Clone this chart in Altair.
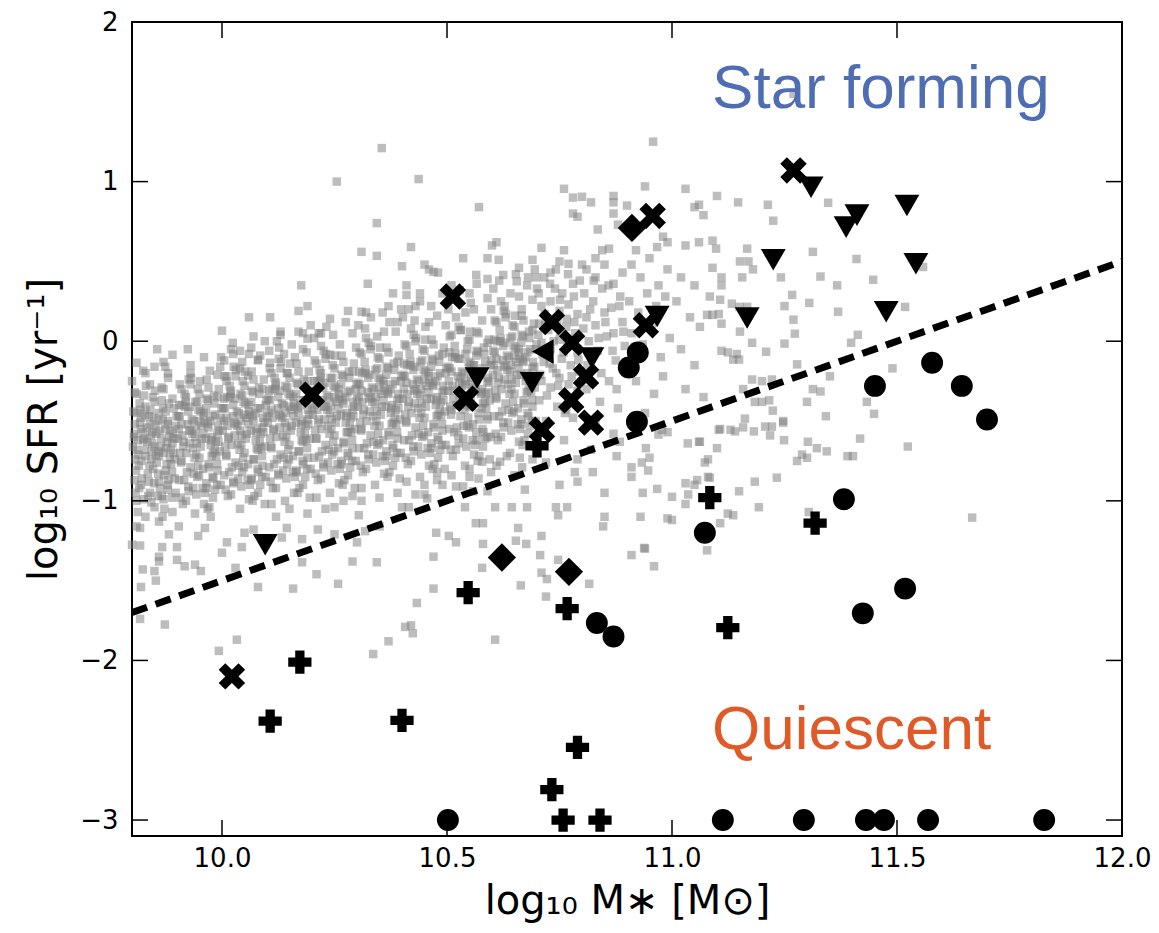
import altair as alt
import pandas as pd

# ---------------- gray background sample (log M*, log SFR) ----------------
gray_A = [(9.81,-0.33),(9.83,-0.41),(9.85,-0.38),(9.87,-0.30),(9.89,-0.36),(9.82,-0.48),(9.84,-0.52),(9.86,-0.45),(9.88,-0.50),(9.805,-0.58),
          (9.825,-0.62),(9.845,-0.57),(9.865,-0.61),(9.885,-0.56),(9.81,-0.68),(9.83,-0.72),(9.85,-0.66),(9.87,-0.70),(9.89,-0.64),(9.815,-0.78),
          (9.835,-0.83),(9.855,-0.76),(9.875,-0.81),(9.895,-0.74),(9.82,-0.90),(9.84,-0.95),(9.86,-0.88),(9.88,-0.93),(9.81,-1.00),(9.85,-1.04),
          (9.87,-0.99),(9.89,-1.07),(9.83,-1.10),(9.86,-1.13),(9.80,-0.25),(9.84,-0.27),(9.88,-0.23),(9.82,-0.55),(9.86,-0.72),(9.895,-0.86),
          (9.805,-0.87),(9.845,-0.64),(9.875,-0.44),(9.83,-0.20),(9.87,-0.13),
          (9.856,-0.05),(9.89,-0.085),(9.81,-0.135),(9.825,-0.185),(9.85,-0.16),(9.874,-0.16),(9.88,-0.2),(9.81,-1.16),(9.818,-1.17),(9.80,-1.275),
          (9.818,-1.28),(9.824,-1.43),(9.85,-1.44),(9.853,-1.50),(9.82,-1.54),(9.818,-1.74),(9.873,-1.775),(9.867,-1.29),(9.86,-1.35),(9.86,-1.38),(9.882,-1.21),
          (9.803,-0.44),(9.818,-0.51),(9.838,-0.47),(9.852,-0.53),(9.868,-0.49),(9.883,-0.60),(9.897,-0.53),(9.812,-0.62),(9.828,-0.68),(9.843,-0.74),
          (9.859,-0.69),(9.877,-0.77),(9.892,-0.70),(9.807,-0.74),(9.822,-0.86),(9.847,-0.80),(9.862,-0.92),(9.881,-0.87),(9.836,-0.97),(9.872,-1.05),
          (9.817,-0.39),(9.851,-0.31),(9.866,-0.37),(9.893,-0.42),(9.808,-0.95),(9.842,-0.59),(9.858,-0.83),(9.878,-0.63),(9.826,-0.34),(9.889,-0.98),
          (9.804,-0.60),(9.814,-0.71),(9.824,-0.57),(9.834,-0.63),(9.844,-0.69),(9.854,-0.58),(9.864,-0.66),(9.874,-0.55),(9.884,-0.73),(9.894,-0.61),
          (9.809,-0.81),(9.829,-0.46),(9.849,-0.89),(9.869,-0.42),(9.889,-0.82),(9.819,-0.43),(9.839,-0.78),(9.859,-0.50),(9.879,-0.90),(9.899,-0.47),
          (9.806,-0.52),(9.846,-0.35),(9.866,-0.97),(9.886,-0.68),(9.826,-0.99),
          (9.802,-0.66),(9.811,-0.45),(9.821,-0.75),(9.833,-0.54),(9.841,-0.43),(9.853,-0.71),(9.861,-0.56),(9.871,-0.84),(9.882,-0.39),(9.891,-0.58),
          (9.806,-0.32),(9.816,-0.92),(9.827,-0.61),(9.837,-0.88),(9.848,-0.48),(9.857,-0.97),(9.866,-0.29),(9.876,-0.67),(9.887,-0.77),(9.897,-0.95),
          (9.813,-1.07),(9.843,-1.01),(9.868,-1.10),(9.831,-0.28),(9.879,-0.52)]
gray_B = [(9.91,-0.30),(9.93,-0.27),(9.95,-0.33),(9.97,-0.29),(9.99,-0.35),(9.905,-0.40),(9.925,-0.44),(9.945,-0.38),(9.965,-0.42),(9.985,-0.46),
          (9.91,-0.52),(9.93,-0.56),(9.95,-0.50),(9.97,-0.54),(9.99,-0.58),(9.915,-0.63),(9.935,-0.67),(9.955,-0.61),(9.975,-0.65),(9.995,-0.69),
          (9.91,-0.75),(9.93,-0.79),(9.95,-0.73),(9.97,-0.77),(9.99,-0.81),(9.905,-0.87),(9.925,-0.91),(9.945,-0.85),(9.965,-0.89),(9.985,-0.93),
          (9.92,-1.00),(9.96,-1.02),(9.98,-0.98),(9.94,-1.08),(9.975,-1.10),(9.94,-0.60),(9.96,-0.47),(9.98,-0.70),(9.92,-0.35),(9.99,-0.21),(9.93,-0.15),
          (9.924,-0.05),(9.96,-0.10),(9.973,-0.185),(9.996,-0.16),(9.998,-0.1),(9.93,-0.2),(9.90,-1.29),(9.90,-1.37),(9.917,-1.41),(9.947,-1.22),
          (9.94,-1.40),(9.953,-1.44),(9.962,-1.17),(9.904,-1.16),(9.993,-1.94),
          (9.903,-0.47),(9.918,-0.41),(9.937,-0.50),(9.952,-0.44),(9.968,-0.52),(9.983,-0.39),(9.997,-0.48),(9.912,-0.59),(9.928,-0.64),(9.943,-0.71),
          (9.959,-0.58),(9.977,-0.72),(9.992,-0.63),(9.907,-0.70),(9.922,-0.82),(9.947,-0.78),(9.962,-0.95),(9.981,-0.86),(9.936,-0.92),(9.972,-1.04),
          (9.917,-0.33),(9.951,-0.25),(9.966,-0.36),(9.993,-0.30),(9.908,-0.98),(9.942,-0.55),(9.958,-0.80),(9.978,-0.60),(9.926,-0.24),(9.989,-0.90),
          (9.904,-0.55),(9.914,-0.66),(9.924,-0.52),(9.934,-0.58),(9.944,-0.64),(9.954,-0.53),(9.964,-0.61),(9.974,-0.50),(9.984,-0.68),(9.994,-0.56),
          (9.909,-0.76),(9.929,-0.41),(9.949,-0.84),(9.969,-0.37),(9.989,-0.77),(9.919,-0.38),(9.939,-0.73),(9.959,-0.45),(9.979,-0.85),(9.999,-0.42),
          (9.906,-0.47),(9.946,-0.30),(9.966,-0.92),(9.986,-0.63),(9.926,-0.94),
          (9.902,-0.61),(9.911,-0.40),(9.921,-0.70),(9.933,-0.49),(9.941,-0.38),(9.953,-0.66),(9.961,-0.51),(9.971,-0.79),(9.982,-0.34),(9.991,-0.53),
          (9.906,-0.27),(9.916,-0.87),(9.927,-0.56),(9.937,-0.83),(9.948,-0.43),(9.957,-0.92),(9.966,-0.24),(9.976,-0.62),(9.987,-0.72),(9.997,-0.90),
          (9.913,-1.02),(9.943,-0.96),(9.968,-1.05),(9.931,-0.23),(9.979,-0.47)]
gray_C = [(10.01,-0.25),(10.03,-0.22),(10.05,-0.28),(10.07,-0.24),(10.09,-0.30),(10.005,-0.36),(10.025,-0.40),(10.045,-0.34),(10.065,-0.38),(10.085,-0.42),
          (10.01,-0.48),(10.03,-0.52),(10.05,-0.46),(10.07,-0.50),(10.09,-0.54),(10.015,-0.60),(10.035,-0.64),(10.055,-0.58),(10.075,-0.62),(10.095,-0.66),
          (10.01,-0.72),(10.03,-0.76),(10.05,-0.70),(10.07,-0.74),(10.09,-0.78),(10.005,-0.84),(10.025,-0.88),(10.045,-0.82),(10.065,-0.86),(10.085,-0.90),
          (10.02,-0.96),(10.06,-0.99),(10.08,-0.95),(10.04,-1.05),(10.095,-1.02),(10.04,-0.56),(10.06,-0.44),(10.08,-0.68),(10.02,-0.31),(10.10,-0.47),
          (10.0,0.066),(10.024,-0.01),(10.02,-0.05),(10.04,-0.06),(10.06,-0.08),(10.08,-0.12),(10.01,-0.22),(10.04,-0.17),(10.058,-0.215),(10.07,0.03),
          (10.06,0.15),(10.08,-0.115),(10.03,-1.42),(10.011,-1.26),(10.0,-1.325),(10.044,-1.29),(10.05,-1.20),(10.07,-1.18),(10.033,-1.87),(10.08,-1.54),
          (10.003,-0.42),(10.018,-0.35),(10.037,-0.45),(10.052,-0.39),(10.068,-0.47),(10.083,-0.33),(10.097,-0.40),(10.012,-0.53),(10.028,-0.59),(10.043,-0.65),
          (10.059,-0.52),(10.077,-0.67),(10.092,-0.57),(10.007,-0.66),(10.022,-0.79),(10.047,-0.73),(10.062,-0.90),(10.081,-0.82),(10.036,-0.86),(10.072,-0.97),
          (10.017,-0.28),(10.051,-0.19),(10.066,-0.31),(10.093,-0.24),(10.008,-0.93),(10.042,-0.50),(10.058,-0.77),(10.078,-0.55),(10.026,-0.16),(10.089,-0.85),
          (10.004,-0.50),(10.014,-0.61),(10.024,-0.47),(10.034,-0.53),(10.044,-0.59),(10.054,-0.48),(10.064,-0.56),(10.074,-0.45),(10.084,-0.63),(10.094,-0.51),
          (10.009,-0.71),(10.029,-0.36),(10.049,-0.79),(10.069,-0.32),(10.089,-0.72),(10.019,-0.33),(10.039,-0.68),(10.059,-0.40),(10.079,-0.80),(10.099,-0.37),
          (10.006,-0.42),(10.046,-0.25),(10.066,-0.87),(10.086,-0.58),(10.026,-0.89),
          (10.002,-0.56),(10.011,-0.35),(10.021,-0.65),(10.033,-0.44),(10.041,-0.33),(10.053,-0.61),(10.061,-0.46),(10.071,-0.74),(10.082,-0.29),(10.091,-0.48),
          (10.006,-0.22),(10.016,-0.82),(10.027,-0.51),(10.037,-0.78),(10.048,-0.38),(10.057,-0.87),(10.066,-0.19),(10.076,-0.57),(10.087,-0.67),(10.097,-0.85),
          (10.013,-0.97),(10.043,-0.91),(10.068,-1.00),(10.031,-0.18),(10.079,-0.42)]
gray_D = [(10.11,-0.20),(10.13,-0.17),(10.15,-0.23),(10.17,-0.19),(10.19,-0.25),(10.105,-0.31),(10.125,-0.35),(10.145,-0.29),(10.165,-0.33),(10.185,-0.37),
          (10.11,-0.43),(10.13,-0.47),(10.15,-0.41),(10.17,-0.45),(10.19,-0.49),(10.115,-0.55),(10.135,-0.59),(10.155,-0.53),(10.175,-0.57),(10.195,-0.61),
          (10.11,-0.67),(10.13,-0.71),(10.15,-0.65),(10.17,-0.69),(10.19,-0.73),(10.105,-0.79),(10.125,-0.83),(10.145,-0.77),(10.165,-0.81),(10.185,-0.85),
          (10.12,-0.92),(10.16,-0.95),(10.18,-0.90),(10.14,-1.00),(10.195,-0.98),(10.14,-0.51),(10.16,-0.39),(10.18,-0.63),(10.12,-0.26),(10.20,-0.42),
          (10.107,0.15),(10.13,0.06),(10.13,0.04),(10.127,-0.04),(10.107,-0.135),(10.144,-0.2),(10.162,-0.1),(10.18,-0.05),(10.19,0.016),(10.18,0.05),
          (10.176,0.35),(10.19,0.22),(10.17,0.19),(10.133,-1.23),(10.178,-1.24),(10.144,-1.17),(10.158,-1.55),(10.178,-1.385),(10.12,-1.10),
          (10.103,-0.36),(10.118,-0.30),(10.137,-0.40),(10.152,-0.34),(10.168,-0.42),(10.183,-0.28),(10.197,-0.35),(10.112,-0.48),(10.128,-0.54),(10.143,-0.60),
          (10.159,-0.47),(10.177,-0.62),(10.192,-0.52),(10.107,-0.61),(10.122,-0.74),(10.147,-0.68),(10.162,-0.85),(10.181,-0.77),(10.136,-0.81),(10.172,-0.92),
          (10.117,-0.23),(10.151,-0.14),(10.166,-0.26),(10.193,-0.19),(10.108,-0.88),(10.142,-0.45),(10.158,-0.72),(10.178,-0.50),(10.126,-0.11),(10.189,-0.80),
          (10.104,-0.45),(10.114,-0.56),(10.124,-0.42),(10.134,-0.48),(10.144,-0.54),(10.154,-0.43),(10.164,-0.51),(10.174,-0.40),(10.184,-0.58),(10.194,-0.46),
          (10.109,-0.66),(10.129,-0.31),(10.149,-0.74),(10.169,-0.27),(10.189,-0.67),(10.119,-0.28),(10.139,-0.63),(10.159,-0.35),(10.179,-0.75),(10.199,-0.32),
          (10.106,-0.37),(10.146,-0.20),(10.166,-0.82),(10.186,-0.53),(10.126,-0.84),
          (10.102,-0.51),(10.111,-0.30),(10.121,-0.60),(10.133,-0.39),(10.141,-0.28),(10.153,-0.56),(10.161,-0.41),(10.171,-0.69),(10.182,-0.24),(10.191,-0.43),
          (10.106,-0.17),(10.116,-0.77),(10.127,-0.46),(10.137,-0.73),(10.148,-0.33),(10.157,-0.82),(10.166,-0.14),(10.176,-0.52),(10.187,-0.62),(10.197,-0.80),
          (10.113,-0.92),(10.143,-0.86),(10.168,-0.95),(10.131,-0.13),(10.179,-0.37)]
gray_E = [(10.21,-0.14),(10.23,-0.11),(10.25,-0.17),(10.27,-0.13),(10.29,-0.19),(10.205,-0.25),(10.225,-0.29),(10.245,-0.23),(10.265,-0.27),(10.285,-0.31),
          (10.21,-0.37),(10.23,-0.41),(10.25,-0.35),(10.27,-0.39),(10.29,-0.43),(10.215,-0.49),(10.235,-0.53),(10.255,-0.47),(10.275,-0.51),(10.295,-0.55),
          (10.21,-0.61),(10.23,-0.65),(10.25,-0.59),(10.27,-0.63),(10.29,-0.67),(10.205,-0.73),(10.225,-0.77),(10.245,-0.71),(10.265,-0.75),(10.285,-0.79),
          (10.22,-0.86),(10.26,-0.89),(10.28,-0.84),(10.24,-0.95),(10.295,-0.92),(10.24,-0.45),(10.26,-0.33),(10.28,-0.57),(10.22,-0.20),(10.30,-0.36),
          (10.215,0.05),(10.24,0.14),(10.22,0.05),(10.24,-0.085),(10.255,1.0),(10.28,0.19),(10.21,-1.46),(10.258,-1.52),(10.213,-1.18),(10.25,-1.21),
          (10.29,-1.38),(10.23,-1.05),(10.27,-1.00),
          (10.203,-0.31),(10.218,-0.25),(10.237,-0.35),(10.252,-0.29),(10.268,-0.37),(10.283,-0.23),(10.297,-0.30),(10.212,-0.43),(10.228,-0.49),(10.243,-0.55),
          (10.259,-0.42),(10.277,-0.57),(10.292,-0.47),(10.207,-0.56),(10.222,-0.69),(10.247,-0.63),(10.262,-0.80),(10.281,-0.72),(10.236,-0.76),(10.272,-0.87),
          (10.217,-0.18),(10.251,-0.09),(10.266,-0.21),(10.293,-0.14),(10.208,-0.83),(10.242,-0.40),(10.258,-0.67),(10.278,-0.45),(10.226,-0.06),(10.289,-0.75),
          (10.204,-0.40),(10.214,-0.51),(10.224,-0.37),(10.234,-0.43),(10.244,-0.49),(10.254,-0.38),(10.264,-0.46),(10.274,-0.35),(10.284,-0.53),(10.294,-0.41),
          (10.209,-0.61),(10.229,-0.26),(10.249,-0.69),(10.269,-0.22),(10.289,-0.62),(10.219,-0.23),(10.239,-0.58),(10.259,-0.30),(10.279,-0.70),(10.299,-0.27),
          (10.206,-0.32),(10.246,-0.15),(10.266,-0.77),(10.286,-0.48),(10.226,-0.79),
          (10.202,-0.46),(10.211,-0.25),(10.221,-0.55),(10.233,-0.34),(10.241,-0.23),(10.253,-0.51),(10.261,-0.36),(10.271,-0.64),(10.282,-0.19),(10.291,-0.38),
          (10.206,-0.12),(10.216,-0.72),(10.227,-0.41),(10.237,-0.68),(10.248,-0.28),(10.257,-0.77),(10.266,-0.09),(10.276,-0.47),(10.287,-0.57),(10.297,-0.75),
          (10.213,-0.87),(10.243,-0.81),(10.268,-0.90),(10.231,-0.08),(10.279,-0.32)]
gray_F = [(10.31,-0.08),(10.33,-0.05),(10.35,-0.11),(10.37,-0.07),(10.39,-0.13),(10.305,-0.19),(10.325,-0.23),(10.345,-0.17),(10.365,-0.21),(10.385,-0.25),
          (10.31,-0.31),(10.33,-0.35),(10.35,-0.29),(10.37,-0.33),(10.39,-0.37),(10.315,-0.43),(10.335,-0.47),(10.355,-0.41),(10.375,-0.45),(10.395,-0.49),
          (10.31,-0.55),(10.33,-0.59),(10.35,-0.53),(10.37,-0.57),(10.39,-0.61),(10.305,-0.67),(10.325,-0.71),(10.345,-0.65),(10.365,-0.69),(10.385,-0.73),
          (10.32,-0.80),(10.36,-0.83),(10.38,-0.78),(10.34,-0.90),(10.395,-0.86),(10.34,-0.39),(10.36,-0.27),(10.38,-0.51),(10.32,0.02),(10.36,0.06),
          (10.355,1.21),(10.344,0.74),(10.31,0.56),(10.344,0.535),(10.324,0.36),(10.38,0.30),(10.37,0.22),(10.31,0.185),(10.32,0.18),(10.304,-1.09),
          (10.31,-1.0),(10.318,-1.19),(10.35,-1.16),(10.30,-1.26),(10.344,-1.385),(10.37,-1.88),(10.336,-1.96),(10.39,0.12),
          (10.303,-0.26),(10.318,-0.20),(10.337,-0.30),(10.352,-0.24),(10.368,-0.32),(10.383,-0.18),(10.397,-0.25),(10.312,-0.38),(10.328,-0.44),(10.343,-0.50),
          (10.359,-0.37),(10.377,-0.52),(10.392,-0.42),(10.307,-0.51),(10.322,-0.64),(10.347,-0.58),(10.362,-0.75),(10.381,-0.67),(10.336,-0.71),(10.372,-0.82),
          (10.317,-0.13),(10.351,-0.04),(10.366,-0.16),(10.393,-0.09),(10.308,-0.78),(10.342,-0.35),(10.358,-0.62),(10.378,-0.40),(10.326,-0.01),(10.389,-0.70),
          (10.304,-0.35),(10.314,-0.46),(10.324,-0.32),(10.334,-0.38),(10.344,-0.44),(10.354,-0.33),(10.364,-0.41),(10.374,-0.30),(10.384,-0.48),(10.394,-0.36),
          (10.309,-0.56),(10.329,-0.21),(10.349,-0.64),(10.369,-0.17),(10.389,-0.57),(10.319,-0.18),(10.339,-0.53),(10.359,-0.25),(10.379,-0.65),(10.399,-0.22),
          (10.306,-0.27),(10.346,-0.10),(10.366,-0.72),(10.386,-0.43),(10.326,-0.74),
          (10.302,-0.41),(10.311,-0.20),(10.321,-0.50),(10.333,-0.29),(10.341,-0.18),(10.353,-0.46),(10.361,-0.31),(10.371,-0.59),(10.382,-0.14),(10.391,-0.33),
          (10.306,-0.07),(10.316,-0.67),(10.327,-0.36),(10.337,-0.63),(10.348,-0.23),(10.357,-0.72),(10.366,-0.04),(10.376,-0.42),(10.387,-0.52),(10.397,-0.70),
          (10.313,-0.82),(10.343,-0.76),(10.368,-0.85),(10.331,-0.03),(10.379,-0.27)]
gray_G = [(10.41,-0.03),(10.43,0.00),(10.45,-0.06),(10.47,-0.02),(10.49,-0.08),(10.405,-0.14),(10.425,-0.18),(10.445,-0.12),(10.465,-0.16),(10.485,-0.20),
          (10.41,-0.26),(10.43,-0.30),(10.45,-0.24),(10.47,-0.28),(10.49,-0.32),(10.415,-0.38),(10.435,-0.42),(10.455,-0.36),(10.475,-0.40),(10.495,-0.44),
          (10.41,-0.50),(10.43,-0.54),(10.45,-0.48),(10.47,-0.52),(10.49,-0.56),(10.405,-0.62),(10.425,-0.66),(10.445,-0.60),(10.465,-0.64),(10.485,-0.68),
          (10.42,-0.75),(10.46,-0.78),(10.48,-0.73),(10.44,-0.85),(10.495,-0.80),(10.44,-0.34),(10.46,-0.22),(10.48,-0.46),(10.42,0.08),(10.46,0.12),
          (10.437,1.016),(10.42,0.59),(10.40,0.47),(10.45,0.48),(10.47,0.435),(10.41,0.35),(10.43,0.22),(10.41,0.29),(10.44,0.30),(10.46,0.45),
          (10.48,0.43),(10.415,-1.04),(10.43,-0.96),(10.456,-0.985),(10.40,-1.04),(10.433,-1.64),(10.407,-1.79),(10.42,-1.78),(10.424,-1.83),(10.47,-1.35),
          (10.47,-1.55),(10.476,-1.20),(10.478,-0.87),(10.478,-0.82),(10.45,-0.90),
          (10.403,-0.21),(10.418,-0.15),(10.437,-0.25),(10.452,-0.19),(10.468,-0.27),(10.483,-0.13),(10.497,-0.20),(10.412,-0.33),(10.428,-0.39),(10.443,-0.45),
          (10.459,-0.32),(10.477,-0.47),(10.492,-0.37),(10.407,-0.46),(10.422,-0.59),(10.447,-0.53),(10.462,-0.70),(10.481,-0.62),(10.436,-0.66),(10.472,-0.77),
          (10.417,-0.08),(10.451,0.01),(10.466,-0.11),(10.493,-0.04),(10.408,-0.73),(10.442,-0.30),(10.458,-0.57),(10.478,-0.35),(10.426,0.04),(10.489,-0.65),
          (10.404,-0.30),(10.414,-0.41),(10.424,-0.27),(10.434,-0.33),(10.444,-0.39),(10.454,-0.28),(10.464,-0.36),(10.474,-0.25),(10.484,-0.43),(10.494,-0.31),
          (10.409,-0.51),(10.429,-0.16),(10.449,-0.59),(10.469,-0.12),(10.489,-0.52),(10.419,-0.13),(10.439,-0.48),(10.459,-0.20),(10.479,-0.60),(10.499,-0.17),
          (10.406,-0.22),(10.446,-0.05),(10.466,-0.67),(10.486,-0.38),(10.426,-0.69),
          (10.402,-0.36),(10.411,-0.15),(10.421,-0.45),(10.433,-0.24),(10.441,-0.13),(10.453,-0.41),(10.461,-0.26),(10.471,-0.54),(10.482,-0.09),(10.491,-0.28),
          (10.406,-0.02),(10.416,-0.62),(10.427,-0.31),(10.437,-0.58),(10.448,-0.18),(10.457,-0.67),(10.466,0.01),(10.476,-0.37),(10.487,-0.47),(10.497,-0.65),
          (10.413,-0.77),(10.443,-0.71),(10.468,-0.80),(10.431,0.02),(10.479,-0.22)]
gray_H = [(10.51,0.04),(10.53,0.07),(10.55,0.01),(10.57,0.05),(10.59,-0.01),(10.505,-0.07),(10.525,-0.11),(10.545,-0.05),(10.565,-0.09),(10.585,-0.13),
          (10.51,-0.19),(10.53,-0.23),(10.55,-0.17),(10.57,-0.21),(10.59,-0.25),(10.515,-0.31),(10.535,-0.35),(10.555,-0.29),(10.575,-0.33),(10.595,-0.37),
          (10.51,-0.43),(10.53,-0.47),(10.55,-0.41),(10.57,-0.45),(10.59,-0.49),(10.505,-0.55),(10.525,-0.59),(10.545,-0.53),(10.565,-0.57),(10.585,-0.61),
          (10.52,-0.68),(10.56,-0.71),(10.58,-0.66),(10.54,-0.78),(10.595,-0.74),(10.54,-0.27),(10.56,-0.15),(10.58,-0.39),(10.52,0.15),(10.56,0.20),
          (10.571,0.84),(10.60,0.60),(10.536,0.52),(10.59,0.52),(10.565,0.415),(10.59,0.39),(10.51,0.35),(10.55,0.30),(10.504,-1.22),(10.52,-1.26),
          (10.564,-1.14),(10.58,-1.14),(10.58,-1.27),(10.578,-1.42),(10.536,-0.91),(10.52,-0.91),(10.59,-0.94),(10.558,-0.94),(10.54,-1.04),(10.578,-0.755),
          (10.598,-0.82),(10.55,-0.85),
          (10.503,-0.16),(10.518,-0.10),(10.537,-0.20),(10.552,-0.14),(10.568,-0.22),(10.583,-0.08),(10.597,-0.15),(10.512,-0.28),(10.528,-0.34),(10.543,-0.40),
          (10.559,-0.27),(10.577,-0.42),(10.592,-0.32),(10.507,-0.41),(10.522,-0.54),(10.547,-0.48),(10.562,-0.65),(10.581,-0.57),(10.536,-0.61),(10.572,-0.72),
          (10.517,-0.03),(10.551,0.06),(10.566,-0.06),(10.593,0.01),(10.508,-0.68),(10.542,-0.25),(10.558,-0.52),(10.578,-0.30),(10.526,0.09),(10.589,-0.60),
          (10.504,-0.25),(10.514,-0.36),(10.524,-0.22),(10.534,-0.28),(10.544,-0.34),(10.554,-0.23),(10.564,-0.31),(10.574,-0.20),(10.584,-0.38),(10.594,-0.26),
          (10.509,-0.46),(10.529,-0.11),(10.549,-0.54),(10.569,-0.07),(10.589,-0.47),(10.519,-0.08),(10.539,-0.43),(10.559,-0.15),(10.579,-0.55),(10.599,-0.12),
          (10.506,-0.17),(10.546,0.00),(10.566,-0.62),(10.586,-0.33),(10.526,-0.64),
          (10.502,-0.31),(10.511,-0.10),(10.521,-0.40),(10.533,-0.19),(10.541,-0.08),(10.553,-0.36),(10.561,-0.21),(10.571,-0.49),(10.582,-0.04),(10.591,-0.23),
          (10.506,0.03),(10.516,-0.57),(10.527,-0.26),(10.537,-0.53),(10.548,-0.13),(10.557,-0.62),(10.566,0.06),(10.576,-0.32),(10.587,-0.42),(10.597,-0.60),
          (10.513,-0.72),(10.543,-0.66),(10.568,-0.75),(10.531,0.07),(10.579,-0.17)]
gray_I = [(10.61,0.12),(10.63,0.15),(10.65,0.09),(10.67,0.13),(10.69,0.07),(10.605,0.01),(10.625,-0.03),(10.645,0.03),(10.665,-0.01),(10.685,-0.05),
          (10.61,-0.11),(10.63,-0.15),(10.65,-0.09),(10.67,-0.13),(10.69,-0.17),(10.615,-0.23),(10.635,-0.27),(10.655,-0.21),(10.675,-0.25),(10.695,-0.29),
          (10.61,-0.35),(10.63,-0.39),(10.65,-0.33),(10.67,-0.37),(10.69,-0.41),(10.605,-0.47),(10.625,-0.51),(10.645,-0.45),(10.665,-0.49),(10.685,-0.53),
          (10.62,-0.60),(10.66,-0.63),(10.68,-0.58),(10.64,-0.70),(10.695,-0.66),(10.64,-0.19),(10.66,-0.07),(10.68,-0.31),(10.62,0.25),(10.66,0.28),
          (10.61,0.62),(10.615,0.51),(10.625,0.415),(10.66,0.46),(10.695,0.45),(10.655,0.375),(10.68,0.40),(10.70,0.33),(10.69,0.51),(10.607,-1.87),
          (10.658,-1.17),(10.653,-1.25),(10.676,-1.27),(10.664,-1.53),(10.607,-1.04),(10.644,-1.04),(10.673,-0.93),(10.678,-1.04),(10.633,-0.72),(10.662,-0.73),
          (10.667,-0.79),(10.618,-0.755),
          (10.603,-0.06),(10.618,0.00),(10.637,-0.10),(10.652,-0.04),(10.668,-0.12),(10.683,0.02),(10.697,-0.05),(10.612,-0.18),(10.628,-0.24),(10.643,-0.30),
          (10.659,-0.17),(10.677,-0.32),(10.692,-0.22),(10.607,-0.31),(10.622,-0.44),(10.647,-0.38),(10.662,-0.55),(10.681,-0.47),(10.636,-0.51),(10.672,-0.62),
          (10.617,0.07),(10.651,0.16),(10.666,0.04),(10.693,0.11),(10.608,-0.58),(10.642,-0.15),(10.658,-0.42),(10.678,-0.20),(10.626,0.19),(10.689,-0.50),
          (10.604,-0.15),(10.614,-0.26),(10.624,-0.12),(10.634,-0.18),(10.644,-0.24),(10.654,-0.13),(10.664,-0.21),(10.674,-0.10),(10.684,-0.28),(10.694,-0.16),
          (10.609,-0.36),(10.629,-0.01),(10.649,-0.44),(10.669,0.03),(10.689,-0.37),(10.619,0.02),(10.639,-0.33),(10.659,-0.05),(10.679,-0.45),(10.699,-0.02),
          (10.606,-0.07),(10.646,0.10),(10.666,-0.52),(10.686,-0.23),(10.626,-0.54),
          (10.602,-0.21),(10.611,0.00),(10.621,-0.30),(10.633,-0.09),(10.641,0.02),(10.653,-0.26),(10.661,-0.11),(10.671,-0.39),(10.682,0.06),(10.691,-0.13),
          (10.606,0.13),(10.616,-0.47),(10.627,-0.16),(10.637,-0.43),(10.648,-0.03),(10.657,-0.52),(10.666,0.16),(10.676,-0.22),(10.687,-0.32),(10.697,-0.50),
          (10.613,-0.62),(10.643,-0.56),(10.668,-0.65),(10.631,0.17),(10.679,-0.07)]
gray_J = [(10.71,0.22),(10.73,0.25),(10.75,0.19),(10.77,0.23),(10.79,0.17),(10.705,0.11),(10.725,0.07),(10.745,0.13),(10.765,0.09),(10.785,0.05),
          (10.71,-0.01),(10.73,-0.05),(10.75,0.01),(10.77,-0.03),(10.79,-0.07),(10.715,-0.13),(10.735,-0.17),(10.755,-0.11),(10.775,-0.15),(10.795,-0.19),
          (10.71,-0.25),(10.73,-0.29),(10.75,-0.23),(10.77,-0.27),(10.79,-0.31),(10.705,-0.37),(10.745,-0.41),(10.765,-0.43),(10.72,-0.50),(10.78,-0.48),
          (10.74,0.33),(10.78,0.36),
          (10.76,0.955),(10.78,0.90),(10.80,0.905),(10.78,0.80),(10.79,0.78),(10.71,0.585),(10.76,0.57),(10.75,0.50),(10.77,0.485),(10.73,0.43),
          (10.71,-1.22),(10.707,-1.34),(10.747,-1.37),(10.71,-1.45),(10.722,-1.49),(10.72,-1.60),(10.747,-1.09),(10.742,-1.04),(10.767,-1.04),(10.72,-0.76),
          (10.79,-0.88),(10.784,-0.82),(10.79,-0.74),(10.75,-0.90),(10.76,-0.62),
          (10.703,0.04),(10.718,0.10),(10.737,0.00),(10.752,0.06),(10.768,-0.02),(10.783,0.12),(10.712,-0.08),(10.728,-0.14),(10.743,-0.20),(10.759,-0.07),
          (10.777,-0.22),(10.792,-0.12),(10.707,-0.21),(10.722,-0.34),(10.747,-0.28),(10.762,-0.45),(10.781,-0.37),(10.717,0.17),(10.751,0.26),(10.766,0.14)]
gray_K = [(10.81,0.45),(10.83,0.40),(10.85,0.48),(10.87,0.36),(10.89,0.43),(10.805,0.30),(10.825,0.25),(10.845,0.33),(10.865,0.21),(10.885,0.28),
          (10.81,0.15),(10.83,0.10),(10.85,0.18),(10.87,0.05),(10.89,0.12),(10.815,0.00),(10.835,-0.06),(10.855,0.03),(10.875,-0.12),(10.895,-0.03),
          (10.81,-0.30),(10.84,-0.38),(10.86,-0.25),(10.88,-0.42),(10.83,-0.52),(10.87,-0.58),
          (10.82,0.87),(10.87,0.91),(10.87,0.87),(10.835,0.70),(10.88,0.73),(10.87,0.80),(10.80,0.48),(10.83,0.52),(10.845,0.57),(10.86,0.58),
          (10.816,-1.52),(10.847,-1.16),(10.85,-1.10),(10.85,-0.95),(10.824,-0.82),(10.877,-0.72),(10.884,-0.63),(10.82,-0.68),
          (10.803,0.08),(10.818,0.20),(10.837,0.02),(10.852,0.12),(10.868,-0.06),(10.883,0.22),(10.812,-0.15),(10.843,-0.20),(10.859,0.35),(10.877,-0.30),
          (10.826,0.38),(10.892,0.06)]
gray_L = [(10.91,0.48),(10.93,0.40),(10.95,0.52),(10.97,0.35),(10.99,0.45),(10.905,0.25),(10.925,0.18),(10.945,0.30),(10.965,0.22),(10.985,0.28),
          (10.91,0.05),(10.935,-0.02),(10.955,0.08),(10.975,-0.10),(10.995,0.02),(10.92,-0.25),(10.96,-0.33),(10.98,-0.22),(10.94,-0.45),
          (10.958,1.25),(10.94,0.97),(10.90,0.85),(10.92,0.57),(10.967,0.59),(10.98,0.655),(10.99,0.62),(10.91,-1.34),(10.94,-1.30),(10.96,-1.41),
          (10.93,-1.10),(10.99,-1.11),(10.935,-0.95),(10.967,-0.925),(10.91,-0.79),(10.91,-0.85),(10.947,-0.81),(10.933,-0.76),(10.95,-0.73),(10.942,-0.67),
          (10.97,-0.585),(10.978,-0.555),(10.99,-0.57),(10.938,-1.295)]
gray_M = [(11.03,0.955),(11.05,0.84),(11.06,0.855),(11.07,0.79),(11.03,0.60),(11.06,0.62),(11.09,0.63),(11.09,0.46),(11.02,0.40),(11.05,0.35),
          (11.01,0.25),(11.04,0.15),(11.078,0.165),(11.09,0.165),(11.062,0.09),(11.084,0.28),(11.02,-0.05),(11.05,-0.15),(11.03,-0.30),(11.07,-0.35),
          (11.062,-0.63),(11.073,-0.76),(11.084,-0.855),(11.0,-0.975),(11.03,-0.89),(11.05,-0.90),(11.056,-0.87),(11.036,-0.96),(11.08,-0.74),(11.08,-0.85),
          (11.035,-0.64),(11.06,-0.63),(11.03,-1.02),(11.078,-1.31),(11.098,0.58),(11.0,-1.12)]
gray_N = [(11.10,0.91),(11.147,0.87),(11.167,0.58),(11.151,0.50),(11.17,0.50),(11.18,0.45),(11.156,0.40),(11.11,0.40),(11.11,0.35),(11.107,0.26),
          (11.133,0.235),(11.15,0.215),(11.167,0.215),(11.104,0.17),(11.11,0.11),(11.151,0.06),(11.178,-0.01),(11.11,-0.06),(11.124,-0.07),(11.144,-0.08),
          (11.149,-0.115),(11.136,-0.115),(11.178,-0.24),(11.158,-0.30),(11.184,-0.38),(11.162,-0.485),(11.158,-0.54),(11.14,-0.565),(11.13,-0.555),(11.104,-0.555),
          (11.1,-0.67),(11.107,-0.55),(11.182,-0.565),(11.184,-0.88),(11.149,-0.94),(11.193,-1.04),(11.136,-1.09),(11.107,-1.14),(11.124,-1.08),(11.2,-0.25),
          (11.2,-0.38)]
gray_O = [(11.213,0.855),(11.225,0.755),(11.347,0.867),(11.27,1.55),(11.313,0.56),(11.41,0.515),(11.242,0.40),(11.33,0.405),(11.367,0.35),(11.447,0.385),
          (11.267,0.29),(11.25,0.22),(11.305,0.24),(11.369,0.185),(11.27,0.135),(11.273,0.047),(11.25,-0.015),(11.209,-0.066),(11.278,-0.145),(11.413,0.04),
          (11.398,-0.01),(11.49,-0.17),(11.518,0.215),(11.558,0.465),(11.351,-0.22),(11.313,-0.30),(11.33,-0.315),(11.222,-0.24),(11.216,-0.37),(11.224,-0.435),
          (11.247,-0.50),(11.3,-0.38),(11.342,-0.47),(11.433,-0.38),(11.449,-0.455),(11.418,-0.61),(11.524,-0.66),(11.402,-0.72),(11.302,-0.63),(11.322,-0.67),
          (11.344,-0.69),(11.278,-0.75),(11.289,-0.71),(11.3,-0.73),(11.233,-0.855),(11.249,-0.62),(11.247,-0.51),(11.222,-0.535),(11.207,-0.535),(11.218,-0.59),
          (11.304,-1.07),(11.667,-1.105),(11.39,-0.72)]
gray_upper = [(10.005,-0.12),(10.025,-0.08),(10.045,-0.13),(10.065,-0.04),(10.085,-0.09),(10.095,0.0),
              (10.105,-0.06),(10.122,0.0),(10.138,-0.08),(10.155,-0.02),(10.17,0.06),(10.188,-0.07),(10.197,0.1),
              (10.205,0.02),(10.22,-0.03),(10.232,0.09),(10.247,0.04),(10.262,-0.02),(10.275,0.12),(10.29,0.05),(10.298,-0.04),
              (10.303,0.10),(10.318,0.08),(10.331,0.15),(10.345,0.03),(10.357,0.18),(10.372,0.12),(10.386,0.06),(10.398,0.20),
              (10.402,0.15),(10.415,0.20),(10.428,0.13),(10.44,0.25),(10.452,0.09),(10.465,0.22),(10.478,0.16),(10.49,0.30),(10.497,0.10),
              (10.503,0.20),(10.516,0.26),(10.528,0.32),(10.541,0.18),(10.553,0.24),(10.566,0.36),(10.578,0.13),(10.59,0.27),(10.598,0.20),
              (10.603,0.33),(10.616,0.38),(10.628,0.22),(10.641,0.30),(10.653,0.42),(10.666,0.20),(10.678,0.35),(10.69,0.26),(10.698,0.40),
              (10.704,0.30),(10.716,0.40),(10.729,0.36),(10.742,0.45),(10.756,0.30),(10.769,0.42),(10.782,0.28),(10.795,0.38)]
gray_lower = [(10.11,-1.02),(10.15,-1.05),(10.19,-1.08),(10.21,-0.98),(10.25,-1.04),(10.29,-0.97),(10.31,-0.92),(10.35,-0.98),(10.39,-0.95),
              (10.41,-0.88),(10.45,-0.96),(10.49,-0.90),(10.51,-0.84),(10.55,-0.80),(10.57,-0.86),(10.61,-0.78),(10.65,-0.84),(10.69,-0.74)]

# ---------------- black markers ----------------
x_marks = [(11.27,1.07),(10.957,0.785),(10.513,0.28),(10.733,0.12),(10.778,-0.01),(10.942,0.10),(10.809,-0.22),
           (10.20,-0.335),(10.542,-0.36),(10.776,-0.37),(10.82,-0.51),(10.711,-0.555),(10.022,-2.10)]
plus_marks = [(10.70,-0.655),(10.547,-1.575),(10.767,-1.675),(10.173,-2.01),(10.107,-2.38),(10.40,-2.375),(10.79,-2.545),
              (10.733,-2.81),(10.758,-3.0),(10.84,-3.0),(11.084,-0.98),(11.318,-1.14),(11.124,-1.795)]
circle_marks = [(10.924,-0.07),(10.904,-0.165),(10.922,-0.505),(11.451,-0.28),(11.578,-0.135),(11.644,-0.28),(11.70,-0.49),
                (11.382,-0.99),(11.073,-1.20),(11.424,-1.705),(11.518,-1.55),(10.833,-1.765),(10.87,-1.85),(10.502,-3.0),
                (11.113,-3.0),(11.293,-3.0),(11.431,-3.0),(11.471,-3.0),(11.569,-3.0),(11.827,-3.0)]
diamond_marks = [(10.911,0.71),(10.622,-1.355),(10.771,-1.445)]
tri_down_marks = [(11.309,0.965),(11.411,0.79),(11.387,0.715),(11.522,0.85),(11.225,0.51),(11.542,0.485),(11.167,0.145),
                  (11.476,0.185),(10.967,0.155),(10.822,-0.105),(10.567,-0.23),(10.689,-0.26),(10.096,-1.275)]
tri_left_marks = [(10.713,-0.065)]

# dividing line and annotations
line_x = [9.8, 12.0]
line_y = [-1.7, 0.5]
x_ticks = [10.0, 10.5, 11.0, 11.5, 12.0]
y_ticks = [-3, -2, -1, 0, 1, 2]
label_text = ["Star forming", "Quiescent"]
label_x = [11.089, 11.089]
label_y = [1.462, -2.558]
label_color = ["#4F6DB3", "#DF5A27"]

W, H = 990, 814
TICK = 16

def pts(lst):
    return pd.DataFrame(lst, columns=["x", "y"])

gray_all = (gray_A + gray_B + gray_C + gray_D + gray_E + gray_F + gray_G + gray_H + gray_I + gray_J + gray_K
            + gray_L + gray_M + gray_N + gray_O + gray_upper + gray_lower)
df_gray = pts(gray_all)

xs = alt.Scale(domain=[9.8, 12.0], nice=False, zero=False)
ys = alt.Scale(domain=[-3.1, 2.0], nice=False, zero=False)

x_axis = alt.Axis(values=x_ticks, format=".1f", labelFlush=False, labelOverlap=False,
                  tickSize=0, domain=False, grid=False, labelPadding=9, titlePadding=10)
y_axis = alt.Axis(values=y_ticks, format="d", labelFlush=False, labelOverlap=False,
                  tickSize=0, domain=False, grid=False, labelPadding=14, titlePadding=15)
X_AX = alt.X("x:Q", scale=xs, title="log₁₀ M∗ [M⊙]", axis=x_axis)
Y_AX = alt.Y("y:Q", scale=ys, title="log₁₀ SFR [yr⁻¹]", axis=y_axis)

gray = alt.Chart(df_gray).mark_square(size=72, color="#808080", opacity=0.52).encode(x=X_AX, y=Y_AX)

df_line = pd.DataFrame({"x": line_x, "y": line_y})
line = alt.Chart(df_line).mark_line(color="black", strokeWidth=7, strokeDash=[16, 9], strokeCap="butt").encode(x=X_AX, y=Y_AX)

X_PATH = "M-1,-0.5L-0.5,-1L0,-0.5L0.5,-1L1,-0.5L0.5,0L1,0.5L0.5,1L0,0.5L-0.5,1L-1,0.5L-0.5,0Z"
P_PATH = "M-0.4,-1L0.4,-1L0.4,-0.4L1,-0.4L1,0.4L0.4,0.4L0.4,1L-0.4,1L-0.4,0.4L-1,0.4L-1,-0.4L-0.4,-0.4Z"

def marker(lst, shape, size):
    return alt.Chart(pts(lst)).mark_point(shape=shape, size=size, filled=True, color="black",
                                          opacity=1, strokeWidth=0).encode(x=X_AX, y=Y_AX)

m_x = marker(x_marks, X_PATH, 700)
m_p = marker(plus_marks, P_PATH, 540)
m_c = marker(circle_marks, "circle", 480)
m_d = marker(diamond_marks, "diamond", 800)
m_t = marker(tri_down_marks, "triangle-down", 620)
m_l = marker(tri_left_marks, "triangle-left", 620)

df_xt = pd.DataFrame({"x": x_ticks})
df_yt = pd.DataFrame({"y": y_ticks})
rule_kw = dict(color="black", strokeWidth=1.5)
t_bottom = alt.Chart(df_xt).mark_rule(**rule_kw).encode(x=X_AX, y=alt.value(H), y2=alt.value(H - TICK))
t_top = alt.Chart(df_xt).mark_rule(**rule_kw).encode(x=X_AX, y=alt.value(0), y2=alt.value(TICK))
t_left = alt.Chart(df_yt).mark_rule(**rule_kw).encode(y=Y_AX, x=alt.value(0), x2=alt.value(TICK))
t_right = alt.Chart(df_yt).mark_rule(**rule_kw).encode(y=Y_AX, x=alt.value(W), x2=alt.value(W - TICK))

df_lab = pd.DataFrame({"x": label_x, "y": label_y, "label": label_text, "color": label_color})
texts = alt.Chart(df_lab).mark_text(align="left", baseline="alphabetic", font="Liberation Sans",
                                    fontSize=62).encode(x=X_AX, y=Y_AX, text="label:N",
                                                         color=alt.Color("color:N", scale=None))

chart = alt.layer(gray, line, m_d, m_t, m_l, m_c, m_p, m_x, t_bottom, t_top, t_left, t_right, texts).properties(
    width=W, height=H,
    autosize=alt.AutoSizeParams(type="none"),
    padding={"left": 132, "top": 22, "right": 37, "bottom": 97},
).configure_view(
    stroke="black", strokeWidth=2
).configure_axis(
    labelFont="DejaVu Sans", labelFontSize=26, labelColor="black",
    titleFont="DejaVu Sans", titleFontSize=40, titleFontWeight="normal", titleColor="black"
)

chart.save("out.html", embed_options={"renderer": "svg", "actions": False})
